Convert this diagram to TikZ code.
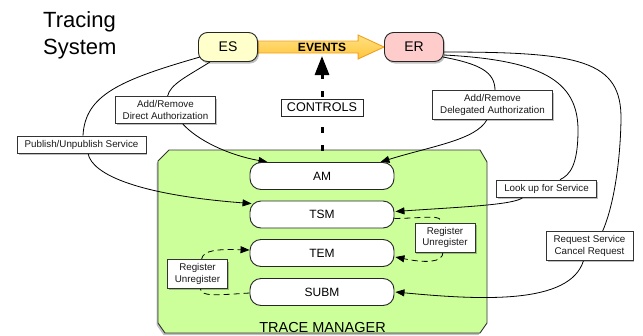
\documentclass[tikz,border=0pt]{standalone}
\usepackage{fontspec}
\setmainfont{Liberation Sans}
\usetikzlibrary{arrows.meta,calc,shadows}

\definecolor{tmgreen}{RGB}{204,255,153}
\definecolor{esfill}{RGB}{255,255,204}
\definecolor{erfill}{RGB}{255,204,204}
\definecolor{evtop}{RGB}{255,226,130}
\definecolor{evbottom}{RGB}{255,196,60}
\definecolor{evborder}{RGB}{240,160,30}

\pgfdeclarelayer{links}
\pgfsetlayers{links,main}

\tikzset{
  softshadow/.style={drop shadow={shadow xshift=1.5pt, shadow yshift=-2pt,
      opacity=0.25, fill=black}},
  endpoint/.style={draw=black!85, line width=0.9pt, rounded corners=9pt,
      minimum width=59pt, minimum height=29pt, inner sep=0pt,
      font=\fontsize{14}{16}\selectfont, softshadow},
  module/.style={draw=black!85, fill=white, line width=0.9pt, rounded corners=11pt,
      minimum width=144pt, minimum height=27pt, inner sep=0pt,
      font=\fontsize{12}{14}\selectfont},
  tag/.style={draw=black!80, fill=white, line width=0.6pt, align=center,
      inner xsep=7.5pt, inner ysep=4pt, text=black!90,
      font=\fontsize{9.8}{11.5}\selectfont, softshadow},
  plain/.style={line width=0.8pt, draw=black},
  link/.style={plain, -{Triangle[length=9pt,width=7pt]}},
  reg/.style={line width=0.8pt, draw=black, dash pattern=on 6pt off 4pt},
  reglink/.style={reg, -{Triangle[length=9pt,width=7pt]}},
  ctrl/.style={line width=3pt, draw=black, dash pattern=on 6pt off 12pt,
      -{Triangle[length=19pt,width=14pt]}},
  evarrow/.style={draw=evborder, line width=0.9pt, top color=evtop,
      bottom color=evbottom},
}

\begin{document}
\begin{tikzpicture}[x=1pt,y=-1pt]
\useasboundingbox (0,0) rectangle (643,335);

% trace manager container (lowest drawing of the links layer)
\begin{pgfonlayer}{links}
\fill[black!25] (167.5,152) -- (478.5,152) -- (485.5,164) -- (485.5,325) -- (478.5,335)
  -- (163.5,335) -- (156.5,325) -- (156.5,163) -- cycle;
\filldraw[fill=tmgreen, draw=black!80, line width=0.9pt]
  (169,150) -- (480,150) -- (487,162) -- (487,323) -- (480,333)
  -- (165,333) -- (158,323) -- (158,161) -- cycle;
\end{pgfonlayer}

% title
\node[anchor=north west, inner sep=0pt, align=left,
      font=\fontsize{22}{27}\selectfont] (title) at (43,11) {Tracing\\System};

% event source / event receiver
\node[endpoint, fill=esfill] (ES) at (228,47) {ES};
\node[endpoint, fill=erfill] (ER) at (414,47) {ER};

\node[anchor=base, inner sep=0pt, font=\fontsize{14.5}{16}\selectfont] (tmname)
  at (322.5,332) {TRACE MANAGER};

% managers
\node[module] (AM)   at (322,176) {AM};
\node[module] (TSM)  at (322,214.5) {TSM};
\node[module] (TEM)  at (322,253) {TEM};
\node[module] (SUBM) at (322,292) {SUBM};

% labels on the connectors
\node[tag] (l1) at (165.5,110) {Add/Remove\\Direct Authorization};
\node[tag] (l2) at (81.5,144.5) {Publish/Unpublish Service};
\node[tag] (l3) at (492.5,105) {Add/Remove\\Delegated Authorization};
\node[tag] (l4) at (546.5,188.5) {Look up for Service};
\node[tag] (l5) at (589.5,246) {Request Service\\Cancel Request};
\node[tag] (l6) at (445,237.5) {Register\\Unregister};
\node[tag] (l7) at (197.5,274) {Register\\Unregister};

% events flow
\node[inner sep=0pt, font=\bfseries\fontsize{12}{14}\selectfont] (evt) at (322,47.5) {EVENTS};
\begin{pgfonlayer}{links}
\draw[evarrow] ($(ES.east)+(0,-6)$) -- ($(ER.west)+(-26,-6)$) -- ($(ER.west)+(-26,-12)$)
  -- (ER.west) -- ($(ER.west)+(-26,12)$) -- ($(ER.west)+(-26,6)$)
  -- ($(ES.east)+(0,6)$) -- cycle;
\end{pgfonlayer}

% controls from the trace manager to the event flow
\coordinate (tmtop) at (322,150.5);
\coordinate (ctip) at (322,56);
\begin{pgfonlayer}{links}
\draw[ctrl] (tmtop) -- (ctip);
\end{pgfonlayer}
\node[draw=black!85, fill=white, line width=0.7pt, minimum height=17pt,
      inner xsep=6pt, inner ysep=0pt, font=\fontsize{12.6}{14}\selectfont]
  (controls) at (322,107.5) {CONTROLS};

\begin{pgfonlayer}{links}
% ES -> direct authorization -> AM
\draw[plain] ($(ES.south)+(-18,0)$) .. controls (188,76) and (170,84) .. ($(l1.north)+(2,0)$);
\draw[link] ($(l1.south)+(17,0)$) .. controls (197,140) and (228,155) .. ($(AM.north west)+(18,0)$);

% ES -> publish / unpublish -> TSM
\draw[plain] (200,57) .. controls (120,80) and (85,95) .. ($(l2.north)+(1.5,0)$);
\draw[link] ($(l2.south)+(6.5,0)$) .. controls (92,175) and (140,195) .. ($(TSM.north west)+(2,3)$);

% ER -> delegated authorization -> AM
\draw[plain] ($(ER.east)+(-1,10)$) .. controls (480,64) and (495,72) .. ($(l3.north)+(2.5,0)$);
\draw[link] ($(l3.south)+(-5.5,0)$) .. controls (476,140) and (432,146) .. ($(AM.north east)+(-14,0)$);

% ER -> look up -> TSM
\draw[plain] ($(ER.east)+(0,8)$) .. controls (540,60) and (578,80) .. (578,130)
  .. controls (578,165) and (570,175) .. ($(l4.north)+(13.5,0)$);
\draw[link] ($(l4.south)+(-23.5,0)$) .. controls (515,205) and (460,207) .. ($(TSM.east)+(1,-3)$);

% ER -> request / cancel -> SUBM
\draw[plain] ($(ER.east)+(0,5)$) .. controls (580,52) and (622,60) .. (621,120)
  .. controls (620,170) and (612,210) .. ($(l5.north)+(13,0)$);
\draw[link] ($(l5.south)+(-6,0)$) .. controls (570,305) and (480,300) .. ($(SUBM.east)+(1,0)$);

% TSM -> TEM registration
\draw[reg] ($(TSM.east)+(0,4)$) .. controls (428,218) and (442,214) .. ($(l6.north)+(-4,0)$);
\draw[reglink] ($(l6.south)+(-2,0)$) .. controls (443,263) and (425,263) .. ($(TEM.east)+(1,4)$);

% SUBM -> TEM registration
\draw[reg] ($(SUBM.west)+(0,1)$) .. controls (218,295) and (200,297) .. ($(l7.south)+(3,0)$);
\draw[reglink] ($(l7.north)+(4,0)$) .. controls (203,250) and (218,249) .. ($(TEM.west)+(0,-3)$);
\end{pgfonlayer}
\end{tikzpicture}
\end{document}
